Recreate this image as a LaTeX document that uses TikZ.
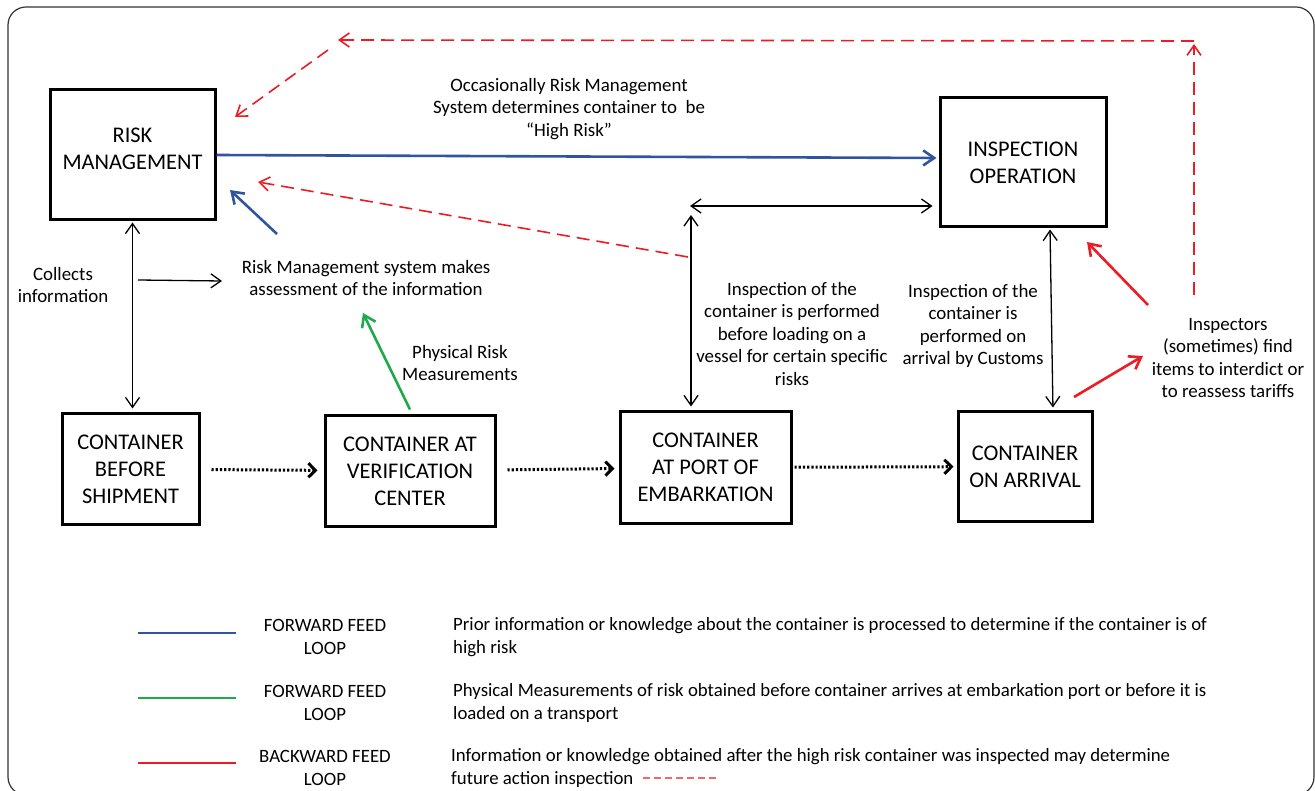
\documentclass[tikz,border=0pt]{standalone}
\usepackage{fontspec}
\setmainfont{Carlito}
\usetikzlibrary{arrows.meta, positioning}
\definecolor{fwdblue}{RGB}{47,84,160}
\definecolor{fwdgreen}{RGB}{30,170,75}
\definecolor{backred}{RGB}{236,28,36}
\definecolor{legred}{RGB}{240,105,105}
\def\boxfont{\fontsize{22.4}{27}\selectfont}
\def\txtfont{\fontsize{18.9}{22.5}\selectfont}
\def\legfont{\fontsize{18.8}{23}\selectfont}
\def\barb{Straight Barb[length=10pt,width=14pt]}
\tikzstyle{box} = [rectangle, draw=black, line width=3, inner sep=0, align=center, font=\boxfont]
\tikzstyle{note} = [align=center, inner sep=0, font=\txtfont]
\tikzstyle{legend} = [align=center, inner sep=0, font=\legfont]
\tikzstyle{aro} = [-{\barb}, line width=1.3]
\tikzstyle{dual} = [{\barb}-{\barb}, line width=1.3]
\tikzstyle{fwd} = [-{Straight Barb[length=11pt,width=15pt]}, fwdblue, line width=2.6]
\tikzstyle{phy} = [-{Straight Barb[length=11pt,width=15pt]}, fwdgreen, line width=2.6]
\tikzstyle{back} = [-{Straight Barb[length=11pt,width=15pt]}, backred, line width=2.6]
\tikzstyle{backdash} = [-{\barb}, backred, line width=1.6, dash pattern=on 13pt off 7pt]
\tikzstyle{flow} = [-{Straight Barb[length=7pt,width=14pt,line width=3pt]}, line width=3, dash pattern=on 2.2pt off 2pt]

\begin{document}
\begin{tikzpicture}[x=1pt, y=-1pt]

  \useasboundingbox (0,0) rectangle (1315,791);
  \draw [rounded corners=18, line width=1.2, black!80] (8,7) rectangle (1314,795);

  % boxes
  \node (risk) [box, minimum width=165, minimum height=130] at (132.5,155) {};
  \node (risktxt) [note, font=\boxfont] at ([yshift=6.5]risk.center) {RISK\\MANAGEMENT};
  \node (insp) [box, minimum width=166, minimum height=129] at (1023,162.5) {INSPECTION\\OPERATION};
  \node (before) [box, minimum width=137, minimum height=110] at (130.5,469) {CONTAINER\\BEFORE\\SHIPMENT};
  \node (verif) [box, minimum width=170, minimum height=110] at (410,471) {CONTAINER AT\\VERIFICATION\\CENTER};
  \node (port) [box, minimum width=171, minimum height=111] at (705.5,467.5) {CONTAINER\\AT PORT OF\\EMBARKATION};
  \node (arr) [box, minimum width=134, minimum height=109] at (1025,466.5) {CONTAINER\\ON ARRIVAL};

  % texts
  \node (highrisk) [note] at (569,109) {Occasionally Risk Management\\System determines container to\ \ be\\“High Risk”};
  \node (collects) [note] at (63,285) {Collects\\information};
  \node (assess) [note] at (366,278) {Risk Management system makes\\assessment of the information};
  \node (phys) [note] at (460,363) {Physical Risk\\Measurements};
  \node (portinsp) [note] at (792,334) {Inspection of the\\container is performed\\before loading on a\\vessel for certain specific\\risks};
  \node (arrinsp) [note] at (973,326) {Inspection of the\\container is\\performed on\\arrival by Customs};
  \node (inspectors) [note] at (1228,358) {Inspectors\\(sometimes) find\\items to interdict or\\to reassess tariffs};

  % loose ends
  \coordinate (bluefrom) at (277,234);
  \coordinate (blueto) at (230,190);
  \coordinate (greento) at (363,313);
  \coordinate (colfrom) at (138,280);
  \coordinate (colto) at (222,281);
  \coordinate (portjoin) at (690,206);
  \coordinate (porttop) at (691,215);
  \coordinate (redup) at (1194,295);
  \coordinate (redcorner) at (1194,41);
  \coordinate (redtop) at (338,40);
  \coordinate (reddiag) at (328,50);
  \coordinate (redrisk) at (235,117);
  \coordinate (redmid) at (688,257);
  \coordinate (redback) at (258,182);
  \coordinate (redinsp) at (1087,242);
  \coordinate (redfind) at (1148,305);
  \coordinate (redarr) at (1074,397);
  \coordinate (redtext) at (1143,356);

  % forward feed
  \draw [fwd, shorten >=2] (risk.east) -- ([yshift=4.5]insp.west);
  \draw [fwd] (bluefrom) -- (blueto);
  \draw [phy] ([yshift=5]verif.north) -- (greento);

  % information flow
  \draw [dual, shorten <=1, shorten >=4] (risk.south) -- (risk.south |- before.north);
  \draw [aro] (colfrom) -- (colto);
  \draw [dual, shorten >=6] (portjoin) -- (portjoin -| insp.west);
  \draw [dual, shorten >=4] (porttop) -- (porttop |- port.north);
  \draw [dual, shorten <=1, shorten >=3] ([xshift=27]insp.south) -- ([xshift=28]arr.north);

  % backward feed
  \draw [backdash, shorten >=3] (redup) -- (redcorner);
  \draw [backdash] (redcorner) -- (redtop);
  \draw [backdash] (reddiag) -- (redrisk);
  \draw [backdash] (redmid) -- (redback);
  \draw [back] (redfind) -- (redinsp);
  \draw [back] (redarr) -- (redtext);

  % container path
  \draw [flow, shorten <=11, shorten >=6] (before) -- (verif);
  \draw [flow, shorten <=11, shorten >=4] (verif) -- (port);
  \draw [flow, shorten <=2, shorten >=3] (port) -- (arr);

  % legend
  \coordinate (key1) at (138,633);
  \coordinate (key2) at (138,698);
  \coordinate (key3) at (138,763);
  \draw [fwdblue, line width=2.6] (key1) -- ++(98,0);
  \draw [fwdgreen, line width=2.6] (key2) -- ++(98,0);
  \draw [backred, line width=2.6] (key3) -- ++(98,0);

  \node (loop1) [legend] at (325,637) {FORWARD FEED\\LOOP};
  \node (loop2) [legend] at (325,703) {FORWARD FEED\\LOOP};
  \node (loop3) [legend] at (325,768) {BACKWARD FEED\\LOOP};
  \node (desc1) [legend, anchor=west, align=left] at (453,637) {Prior information or knowledge about the container is processed to determine if the container is of\\high risk};
  \node (desc2) [legend, anchor=west, align=left] at (453,703) {Physical Measurements of risk obtained before container arrives at embarkation port or before it is\\loaded on a transport};
  \node (desc3) [legend, anchor=west, align=left] at (451,768) {Information or knowledge obtained after the high risk container was inspected may determine\\future action inspection};

  \coordinate (keydash) at (643,778);
  \draw [legred, line width=1.5, dash pattern=on 7pt off 4pt] (keydash) -- ++(73,0);

\end{tikzpicture}
\end{document}
